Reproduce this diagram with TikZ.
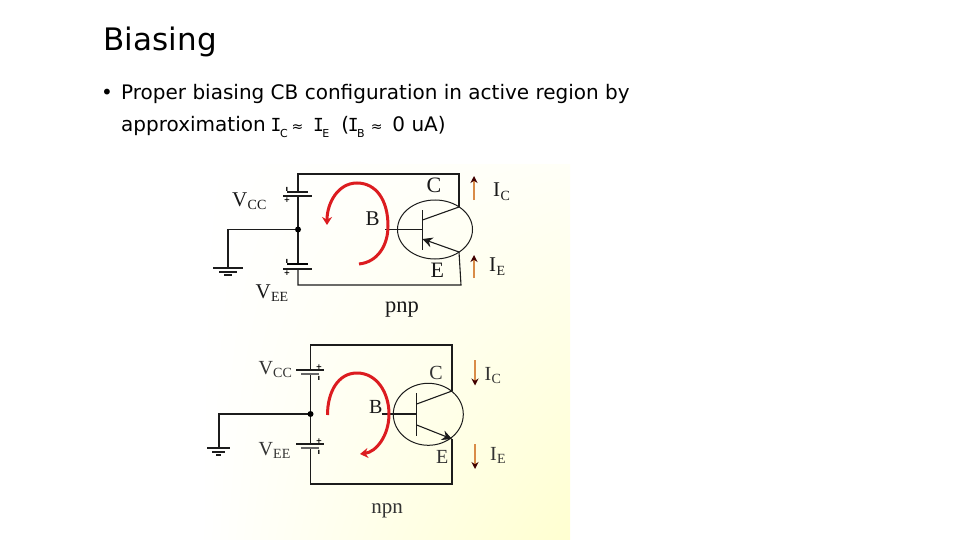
\documentclass[tikz,border=0pt]{standalone}
\usepackage{fontspec}
\setmainfont{DejaVu Sans}
\newfontfamily\lab{Liberation Serif}
\newfontfamily\monoi{DejaVu Sans Mono}
\usetikzlibrary{arrows.meta,shadings,shapes.geometric}
\newcommand{\bodyI}[1]{\makebox[8pt][c]{\fontsize{18}{18}\selectfont\monoi I}\raisebox{-0.3em}{\fontsize{11}{11}\selectfont #1}}
\newcommand{\apx}[2]{\hspace{#1}{\fontsize{14}{14}\selectfont≈}\hspace{#2}}
\newcommand{\labt}[2]{#1\hspace{0.3pt}\raisebox{-0.16em}{\fontsize{14}{14}\selectfont #2}}
\definecolor{wire}{HTML}{1C1C1C}
\definecolor{loopred}{HTML}{DC1C20}
\definecolor{curr}{HTML}{D98C48}
\definecolor{paleyellow}{HTML}{FFFFD0}
\tikzset{
  x=1pt,y=-1pt,
  wireline/.style={draw=wire,line width=1.1pt},
  heavywire/.style={draw=wire,line width=2.2pt},
  softplate/.style={draw=gray!80!black,line width=1.4pt},
  redloop/.style={draw=loopred,line width=3pt,-{Stealth[length=8pt,width=10pt]}},
  tranarrow/.style={draw=wire,line width=1.1pt,-{Stealth[length=10pt,width=10pt]}},
  currentarrow/.style={draw=curr,line width=1.5pt,-{Stealth[length=7pt,width=7pt,color=black!75!red]}},
  pnplabel/.style={font=\lab\fontsize{21}{21}\selectfont,text=black!90,inner sep=0pt},
  npnlabel/.style={font=\lab\fontsize{20}{20}\selectfont,text=black!80,inner sep=0pt},
  tinysign/.style={font=\bfseries\fontsize{7.5}{7.5}\selectfont,inner sep=0pt},
}
\begin{document}
\begin{tikzpicture}
\useasboundingbox (0,0) rectangle (960,540);
\fill[white] (0,0) rectangle (960,540);
\shade[upper left=white,upper right=paleyellow!18,lower left=white,lower right=paleyellow] (200,165) rectangle (570,540);
% text
\node[anchor=base west,inner sep=0pt,font=\fontsize{31}{31}\selectfont] (title) at (103.5,51) {Biasing};
\node[anchor=base west,inner sep=0pt,font=\fontsize{20}{20}\selectfont] (bul) at (101,100) {•};
\node[anchor=base west,inner sep=0pt,font=\fontsize{20}{20}\selectfont] (l1) at (121,100) {Proper biasing CB configuration in active region by};
\node[anchor=base west,inner sep=0pt,font=\fontsize{20}{20}\selectfont] (l2) at (121,131.5) {approximation \bodyI{C}\apx{4pt}{11pt}\bodyI{E}\hspace{12pt}(\bodyI{B}\apx{6pt}{10pt}0 uA)};
% PNP circuit
\coordinate (ptl) at (298,174);
\coordinate (ptr) at (459,174);
\coordinate (pbl) at (298,285);
\coordinate (pbr) at (461,285);
\coordinate (pc) at (459,207);
\coordinate (pe) at (459,252);
\coordinate (pj) at (298,229.5);
\coordinate (pa1) at (298,192);
\coordinate (pa2) at (298,196);
\coordinate (pb1) at (298,264);
\coordinate (pb2) at (298,269);
\coordinate (pg) at (228,229.5);
\coordinate (pgg) at (228,268);
\coordinate (pbase) at (385,229.5);
\coordinate (pbar) at (422.5,229.5);
\coordinate (pbc) at (422.5,220);
\coordinate (pbe) at (422.5,239);
\draw[wireline] (pa1) -- (ptl) -- (ptr) -- (pc);
\draw[wireline] (pe) -- (pbr) -- (pbl) -- (pb2);
\draw[wireline] (pa2) -- (pb1);
\draw[wireline] (pj) -- (pg) -- (pgg);
\fill[black] (pj) circle (3);
\draw[wireline] (287,192) -- (308,192);
\draw[wireline] (283,196) -- (312,196);
\draw[line width=2.2pt,draw=black] (287,264) -- (308,264);
\draw[wireline] (283,269) -- (312,269);
\node[tinysign] (pp1) at (287,189) {ı};
\node[tinysign] (pm1) at (287,200) {+};
\node[tinysign] (pp2) at (287,261) {ı};
\node[tinysign] (pm2) at (287,273) {+};
\draw[wireline] (213,268) -- (243,268);
\draw[wireline] (219,272) -- (237,272);
\draw[wireline] (224,275) -- (232,275);
\node[draw=wire,line width=1pt,ellipse,minimum width=75pt,minimum height=59pt,inner sep=0pt] (pq) at (435,229.5) {};
\draw[wireline] (pbase) -- (pbar);
\draw[draw=wire,line width=1.2pt] (422.5,210) -- (422.5,250);
\draw[wireline] (pbc) -- (pc);
\draw[tranarrow] (pe) -- (pbe);
\draw[redloop] (359,264) .. controls (378,262) and (388,245) .. (388,226) .. controls (388,200) and (376,183) .. (357,183) .. controls (338,183) and (327,203) .. (327,225);
\draw[currentarrow] (474,200) -- (474,176);
\draw[currentarrow] (474,278) -- (474,255);
\node[pnplabel,anchor=base west] (pvcc) at (232,206.5) {\labt{V}{CC}};
\node[pnplabel,anchor=base west] (pvee) at (255.5,298.5) {\labt{V}{EE}};
\node[pnplabel,font=\lab\fontsize{22}{22}\selectfont] (pC) at (434,185.7) {C};
\node[pnplabel] (pB) at (372.7,218.3) {B};
\node[pnplabel,font=\lab\fontsize{22}{22}\selectfont] (pE) at (437.3,270) {E};
\node[pnplabel,anchor=base west] (pic) at (493,196.7) {\labt{I}{C}};
\node[pnplabel,anchor=base west] (pie) at (489,271.7) {\labt{I}{E}};
\node[pnplabel,font=\lab\fontsize{22.5}{22.5}\selectfont,anchor=base] (pnp) at (402,312) {pnp};
% NPN circuit
\coordinate (ntl) at (310.5,345);
\coordinate (ntr) at (452,345);
\coordinate (nbl) at (310.5,484);
\coordinate (nbr) at (452,484);
\coordinate (nc) at (452,391);
\coordinate (ne) at (452,439);
\coordinate (nj) at (310.5,414);
\coordinate (nv1) at (310.5,370);
\coordinate (nv2) at (310.5,374);
\coordinate (nv3) at (310.5,444);
\coordinate (nv4) at (310.5,448);
\coordinate (ng) at (219,414);
\coordinate (ngg) at (219,448);
\coordinate (nbase) at (381.5,414);
\coordinate (nbar) at (416.7,414);
\coordinate (nbc) at (416.7,404);
\coordinate (nbe) at (416.7,425);
\draw[wireline] (nv1) -- (ntl) -- (ntr) -- (nc);
\draw[wireline] (ne) -- (nbr) -- (nbl) -- (nv4);
\draw[wireline] (nv2) -- (nv3);
\draw[heavywire] (nj) -- (ng) -- (ngg);
\fill[black] (nj) circle (3);
\draw[wireline] (296,370) -- (324,370);
\draw[softplate] (301,374) -- (319,374);
\draw[wireline] (296,444) -- (324,444);
\draw[softplate,line width=2pt] (301,448) -- (319,448);
\node[tinysign] (np1) at (319,367) {+};
\node[tinysign] (nm1) at (319,378) {ı};
\node[tinysign] (np2) at (319,441) {+};
\node[tinysign] (nm2) at (319,452) {ı};
\draw[wireline,line width=1.4pt] (207,448) -- (230,448);
\draw[wireline] (212,452) -- (225,452);
\draw[wireline] (216,455) -- (221,455);
\node[draw=wire,line width=1pt,ellipse,minimum width=70pt,minimum height=62pt,inner sep=0pt] (nq) at (428.3,414.3) {};
\draw[heavywire] (nbase) -- (nbar);
\draw[draw=wire,line width=1.2pt] (416.7,393) -- (416.7,436);
\draw[wireline] (nbc) -- (nc);
\draw[tranarrow] (nbe) -- (ne);
\draw[redloop] (327.5,415) .. controls (327.5,392) and (338,373) .. (357,373) .. controls (377,373) and (389,393) .. (389,414) .. controls (389,436) and (376,452) .. (360,454);
\draw[currentarrow] (475,360) -- (475,385.5);
\draw[currentarrow] (475,444) -- (475,469);
\node[npnlabel,anchor=base west] (nvcc) at (258.3,374.3) {\labt{V}{CC}};
\node[npnlabel,anchor=base west] (nvee) at (258.3,455) {\labt{V}{EE}};
\node[npnlabel] (nC) at (436,373.3) {C};
\node[npnlabel,text=black!90] (nB) at (375.7,406.7) {B};
\node[npnlabel] (nE) at (442.3,456.7) {E};
\node[npnlabel,anchor=base west] (nic) at (484.5,380) {\labt{I}{C}};
\node[npnlabel,anchor=base west] (nie) at (490,460) {\labt{I}{E}};
\node[npnlabel,font=\lab\fontsize{21}{21}\selectfont,anchor=base] (npn) at (387,513.5) {npn};
\end{tikzpicture}
\end{document}
